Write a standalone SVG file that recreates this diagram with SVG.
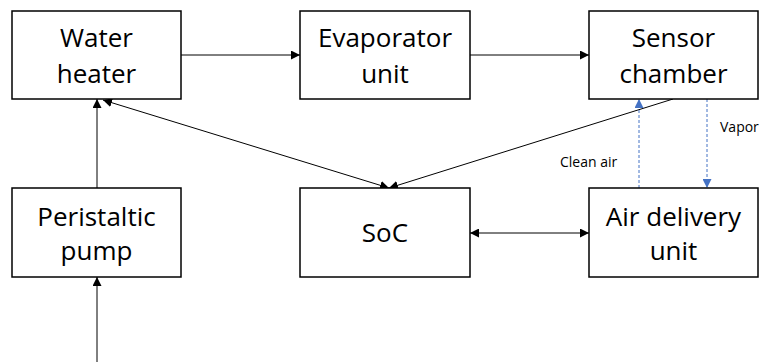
<svg xmlns="http://www.w3.org/2000/svg" width="761" height="362" viewBox="0 0 761 362">
  <style>
    .box { fill: #ffffff; stroke: #000000; stroke-width: 1.5; }
    .lbl { font-family: "Open Sans", "Liberation Sans", sans-serif; font-size: 26px; fill: #000000; text-anchor: middle; }
    .note { font-family: "Open Sans", "Liberation Sans", sans-serif; font-size: 14px; fill: #000000; }
    .wire { stroke: #000000; stroke-width: 1; fill: none; }
    .flow { stroke: #4472C4; stroke-width: 1; stroke-dasharray: 3 2; fill: none; }
  </style>
  <defs>
    <marker id="arrow" viewBox="0 0 10 10" refX="10" refY="5" markerWidth="9" markerHeight="9" markerUnits="userSpaceOnUse" orient="auto-start-reverse">
      <path d="M0,0 L10,5 L0,10 z" fill="#000000"/>
    </marker>
    <marker id="arrowBlue" viewBox="0 0 10 10" refX="10" refY="5" markerWidth="9" markerHeight="9" markerUnits="userSpaceOnUse" orient="auto-start-reverse">
      <path d="M0,0 L10,5 L0,10 z" fill="#4472C4"/>
    </marker>
  </defs>

  <rect width="761" height="362" fill="#ffffff"/>

  <g id="connectors">
    <line class="wire" x1="181" y1="55" x2="300" y2="55" marker-end="url(#arrow)"/>
    <line class="wire" x1="470" y1="55" x2="589" y2="55" marker-end="url(#arrow)"/>
    <line class="wire" x1="97" y1="188" x2="97" y2="99" marker-end="url(#arrow)"/>
    <line class="wire" x1="97" y1="362" x2="97" y2="277" marker-end="url(#arrow)"/>
    <line class="wire" x1="103" y1="100" x2="389" y2="188" marker-start="url(#arrow)" marker-end="url(#arrow)"/>
    <line class="wire" x1="673" y1="99" x2="389" y2="188" marker-end="url(#arrow)"/>
    <line class="wire" x1="470" y1="233" x2="589" y2="233" marker-start="url(#arrow)" marker-end="url(#arrow)"/>
    <line class="flow" x1="639" y1="188" x2="639" y2="99" marker-end="url(#arrowBlue)"/>
    <line class="flow" x1="707" y1="99" x2="707" y2="188" marker-end="url(#arrowBlue)"/>
    <text class="note" x="560" y="167">Clean air</text>
    <text class="note" x="720" y="132">Vapor</text>
  </g>

  <g id="water-heater">
    <rect class="box" x="12" y="11" width="169" height="88"/>
    <text class="lbl" x="96.5" y="46.5">Water</text>
    <text class="lbl" x="96.5" y="83">heater</text>
  </g>

  <g id="evaporator-unit">
    <rect class="box" x="300" y="11" width="170" height="88"/>
    <text class="lbl" x="385" y="46.5">Evaporator</text>
    <text class="lbl" x="385" y="83">unit</text>
  </g>

  <g id="sensor-chamber">
    <rect class="box" x="589" y="11" width="169" height="88"/>
    <text class="lbl" x="673.5" y="46.5">Sensor</text>
    <text class="lbl" x="673.5" y="83">chamber</text>
  </g>

  <g id="peristaltic-pump">
    <rect class="box" x="12" y="188" width="169" height="89"/>
    <text class="lbl" x="96.5" y="225.5">Peristaltic</text>
    <text class="lbl" x="96.5" y="260">pump</text>
  </g>

  <g id="soc">
    <rect class="box" x="300" y="188" width="170" height="89"/>
    <text class="lbl" x="385" y="242">SoC</text>
  </g>

  <g id="air-delivery-unit">
    <rect class="box" x="589" y="188" width="169" height="89"/>
    <text class="lbl" x="673.5" y="225.5">Air delivery</text>
    <text class="lbl" x="673.5" y="260">unit</text>
  </g>
</svg>
